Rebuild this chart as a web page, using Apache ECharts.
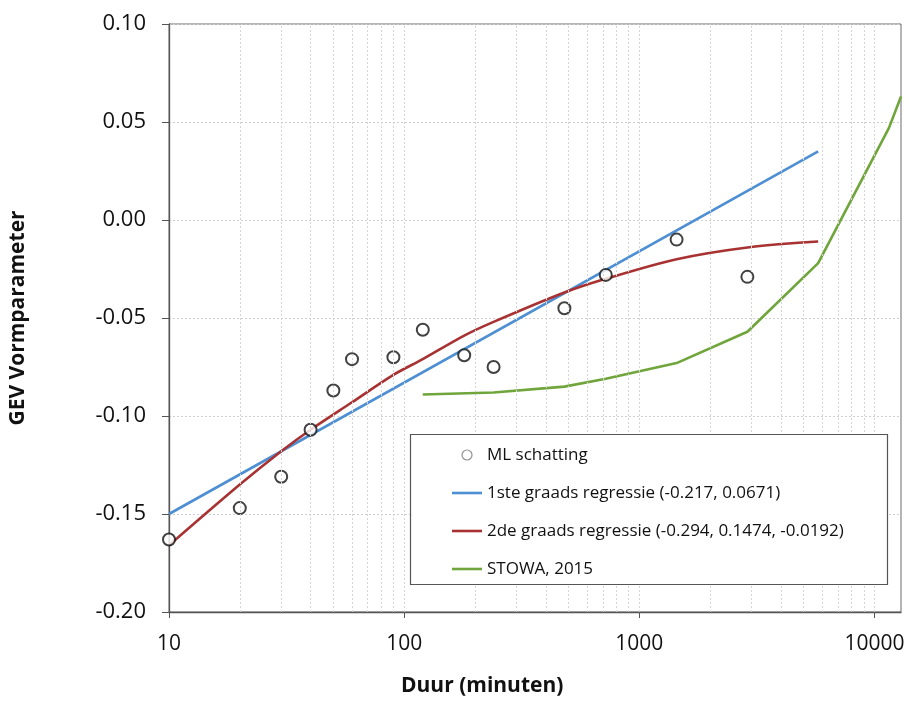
<!DOCTYPE html>
<html>
<head>
<meta charset="utf-8">
<script src="https://cdn.jsdelivr.net/npm/echarts@6/dist/echarts.min.js"></script>
<style>
html,body{margin:0;padding:0;background:#fff;}
#chart{width:909px;height:702px;}
</style>
</head>
<body>
<div id="chart"></div>
<script>
// Durations (minutes) of the ML estimates and their values
var mlDuration = [10, 20, 30, 40, 50, 60, 90, 120, 180, 240, 480, 720, 1440, 2880];
var mlValue    = [-0.163, -0.147, -0.131, -0.107, -0.087, -0.071, -0.070, -0.056, -0.069, -0.075, -0.045, -0.028, -0.010, -0.029];

// 1st order regression line (read at both ends)
var reg1Duration = [10, 5760];
var reg1Value    = [-0.150, 0.035];

// 2nd order regression curve
var reg2Duration = [10, 20, 30, 40, 60, 90, 120, 180, 240, 480, 720, 1440, 2880, 5760];
var reg2Value    = [-0.166, -0.135, -0.118, -0.107, -0.093, -0.079, -0.071, -0.059, -0.052, -0.037, -0.030, -0.020, -0.014, -0.011];

// STOWA 2015
var stowaDuration = [120, 240, 480, 720, 1440, 2880, 5760, 11520, 12960];
var stowaValue    = [-0.089, -0.088, -0.085, -0.081, -0.073, -0.057, -0.022, 0.047, 0.063];

var xTickLabels = [10, 100, 1000, 10000];

var seriesNames = ['ML schatting', '1ste graads regressie (-0.217, 0.0671)', '2de graads regressie (-0.294, 0.1474, -0.0192)', 'STOWA, 2015'];
var colors = {reg1: '#4d8fd2', reg2: '#a83232', stowa: '#6fa53a'};

function pairs(xs, ys){ return xs.map(function(x,i){ return [x, ys[i]]; }); }

// vertical log grid lines (2..9 within each decade, plus the decades)
var vGrid = [];
[10, 100, 1000].forEach(function(d){
  for (var k = 2; k <= 9; k++) vGrid.push({xAxis: d*k});
  vGrid.push({xAxis: d*10});
});

var LINE_ICON = 'path://M0,0H30V2.6H0Z';
var FONT = 'Open Sans';
var chart = echarts.init(document.getElementById('chart'));
chart.setOption({
  animation: false,
  backgroundColor: '#fff',
  textStyle: {fontFamily: FONT},
  title: {
    text: 'Duur (minuten)',
    left: 401, top: 676,
    padding: 0,
    textStyle: {fontFamily: FONT, fontWeight: 'bold', fontSize: 21, color: '#111'}
  },
  grid: {left: 169, right: 8, top: 24, bottom: 90, show: true, borderColor: '#6b6b6b', borderWidth: 1, backgroundColor: 'transparent'},
  graphic: {
    elements: [{
      type: 'rect', z: 10,
      shape: {x: 410.5, y: 434.5, width: 477, height: 150},
      style: {fill: '#fff', stroke: '#555', lineWidth: 1.2}
    }]
  },
  legend: {
    left: 452, top: 445,
    orient: 'vertical',
    padding: 0,
    itemWidth: 30, itemHeight: 10,
    itemGap: 18,
    z: 20,
    textStyle: {fontFamily: FONT, fontSize: 17, color: '#111', lineHeight: 20},
    data: [
      {name: seriesNames[0], icon: 'circle', itemStyle: {color: '#fff', borderColor: '#777', borderWidth: 1.2}},
      {name: seriesNames[1], icon: LINE_ICON, itemStyle: {color: colors.reg1, borderWidth: 0}},
      {name: seriesNames[2], icon: LINE_ICON, itemStyle: {color: colors.reg2, borderWidth: 0}},
      {name: seriesNames[3], icon: LINE_ICON, itemStyle: {color: colors.stowa, borderWidth: 0}}
    ]
  },
  xAxis: {
    type: 'log', logBase: 10, min: 10, max: 12960,
    axisLine: {show: true, onZero: false, lineStyle: {color: '#555', width: 1.3}},
    axisTick: {show: true, inside: false, length: 6, lineStyle: {color: '#555'}},
    axisLabel: {
      fontFamily: FONT, fontSize: 21, color: '#111', margin: 22,
      showMaxLabel: false,
      formatter: function(v){ return xTickLabels.indexOf(Math.round(v)) >= 0 ? String(Math.round(v)) : ''; }
    },
    splitLine: {show: false}
  },
  yAxis: {
    type: 'value', min: -0.2, max: 0.1, interval: 0.05,
    name: 'GEV Vormparameter', nameLocation: 'middle', nameGap: 140,
    nameTextStyle: {fontFamily: FONT, fontWeight: 'bold', fontSize: 21, color: '#111'},
    axisLine: {show: true, onZero: false, lineStyle: {color: '#555', width: 1.3}},
    axisTick: {show: true, inside: false, length: 7, lineStyle: {color: '#555'}},
    axisLabel: {fontFamily: FONT, fontSize: 22, color: '#111', margin: 23,
      formatter: function(v){ return v.toFixed(2); }},
    splitLine: {show: true, lineStyle: {color: '#cfcfcf', type: [2, 2], width: 1}}
  },
  series: [
    {
      name: 'grid', type: 'line', data: [], silent: true, z: 1,
      markLine: {
        silent: true, symbol: ['none', 'none'], label: {show: false},
        lineStyle: {color: '#d4d4d4', type: [2, 2], width: 1},
        emphasis: {disabled: true},
        data: vGrid
      }
    },
    {
      name: seriesNames[1], type: 'line', data: pairs(reg1Duration, reg1Value),
      showSymbol: false, symbol: 'none', z: 3,
      lineStyle: {color: colors.reg1, width: 2.6}, itemStyle: {color: colors.reg1}
    },
    {
      name: seriesNames[2], type: 'line', data: pairs(reg2Duration, reg2Value),
      showSymbol: false, symbol: 'none', smooth: 0.3, z: 3,
      lineStyle: {color: colors.reg2, width: 2.6}, itemStyle: {color: colors.reg2}
    },
    {
      name: seriesNames[3], type: 'line', data: pairs(stowaDuration, stowaValue),
      showSymbol: false, symbol: 'none', z: 3,
      lineStyle: {color: colors.stowa, width: 2.6}, itemStyle: {color: colors.stowa}
    },
    {
      name: seriesNames[0], type: 'scatter', data: pairs(mlDuration, mlValue),
      symbol: 'circle', symbolSize: 12, z: 4,
      itemStyle: {color: '#fff', borderColor: '#111', borderWidth: 2}
    }
  ]
});
</script>
</body>
</html>
